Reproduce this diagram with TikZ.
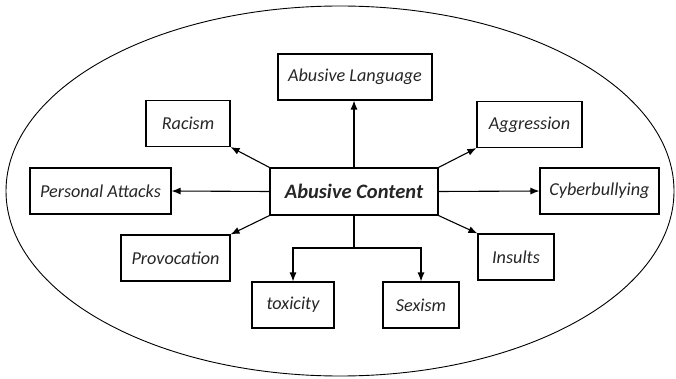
\documentclass[tikz,border=0pt]{standalone}
\usepackage{fontspec}
\setmainfont{Carlito}
\usetikzlibrary{arrows.meta, positioning}

\begin{document}
\begin{tikzpicture}[x=1pt, y=-1pt,
    box/.style={draw, line width=1.1pt, minimum height=46pt, inner sep=0pt,
        text=black!85, font=\fontsize{18.2}{21}\selectfont\itshape},
    arr/.style={-{Latex[length=9pt,width=7pt]}, line width=1.1pt}]
    \useasboundingbox (0,0) rectangle (676,379);
    % outer ellipse
    \draw[line width=0.9pt] (340,191) ellipse [x radius=334, y radius=185];
    % centre
    \node[box, minimum width=168pt, minimum height=47pt,
        font=\fontsize{20.5}{22}\selectfont\bfseries\itshape] (c) at (354,191.5) {Abusive Content};
    % categories
    \node[box, minimum width=154pt] (lang) at (355,77) {Abusive Language};
    \node[box, minimum width=84pt] (rac) at (188,123.5) {Racism};
    \node[box, minimum width=105pt] (aggr) at (529.5,124.5) {Aggression};
    \node[box, minimum width=141pt] (pers) at (100.5,191) {Personal Attacks};
    \node[box, minimum width=119pt] (cyber) at (599.5,191) {Cyberbullying};
    \node[box, minimum width=109pt] (prov) at (175.5,258) {Provocation};
    \node[box, minimum width=76pt] (ins) at (516,257) {Insults};
    \node[box, minimum width=82pt] (tox) at (293,305) {toxicity};
    \node[box, minimum width=76pt] (sex) at (421,305) {Sexism};
    \coordinate (split) at (354,248);

    \draw[arr] (c.north) -- (c.north |- lang.south);
    \draw[arr] (c.north west) -- (rac.south east);
    \draw[arr] (c.north east) -- (aggr.south west);
    \draw[arr] (c.west) -- (pers.east);
    \draw[arr] (c.east) -- (cyber.west);
    \draw[arr] (c.south west) -- (prov.north east);
    \draw[arr] (c.south east) -- (ins.north west);
    \draw[line width=1.1pt] (c.south) -- (split);
    \draw[arr] (split) -| (tox.north);
    \draw[arr] (split) -| (sex.north);
\end{tikzpicture}
\end{document}
